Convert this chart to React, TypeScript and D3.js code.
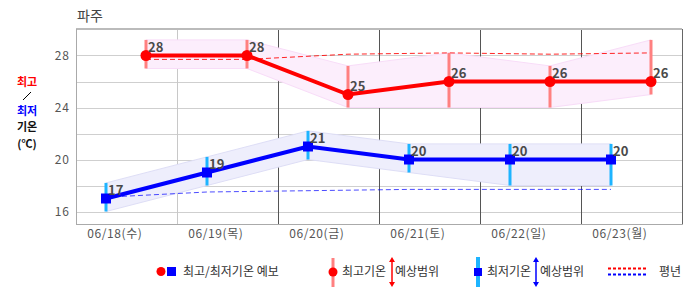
import React from "react";
import * as d3 from "d3";

const dates = ["06/18(수)", "06/19(목)", "06/20(금)", "06/21(토)", "06/22(일)", "06/23(월)"];
const maxTemp = [28, 28, 25, 26, 26, 26];
const minTemp = [17, 19, 21, 20, 20, 20];
const maxRangeLow = [27, 27, 24, 24, 24, 25];
const maxRangeHigh = [29.2, 29.2, 27.2, 28.2, 27.2, 29.2];
const minRangeLow = [16, 18, 20, 19, 18, 18];
const minRangeHigh = [18.2, 20.2, 22.2, 21.2, 21.2, 21.2];
const maxNormal = [27.7, 27.7, 28.1, 28.2, 28.1, 28.2];
const minNormal = [17.1, 17.5, 17.6, 17.7, 17.7, 17.7];
const yTicks = [16, 20, 24, 28];
const yGrid = [16, 18, 20, 22, 24, 26, 28];

const W = 686, H = 295;
const L = 76, R = 682, T = 29, B = 224.5;
const MIN_OFF = 0.297, MAX_OFF = 0.693, LABEL_OFF = 0.385;
const FONT = "'Noto Sans CJK KR', 'Noto Sans', sans-serif";

export default function App() {
  const x = d3.scaleLinear().domain([0, 6]).range([L, R]);
  const y = d3.scaleLinear().domain([15, 30]).range([B, T + 0.5]);
  const idx = d3.range(dates.length);

  const xMax = (i: number) => x(i + MAX_OFF);
  const xMin = (i: number) => x(i + MIN_OFF);

  const area = (xs: (i: number) => number, lo: number[], hi: number[]) =>
    d3.area<number>().x((i) => xs(i)).y0((i) => y(lo[i])).y1((i) => y(hi[i]))(idx) || "";
  const line = (xs: (i: number) => number, v: number[]) =>
    d3.line<number>().x((i) => xs(i)).y((i) => y(v[i]))(idx) || "";

  const arrow = (cx: number, y0: number, y1: number, color: string) => (
    <g>
      <line x1={cx} x2={cx} y1={y0 + 3} y2={y1 - 3} stroke={color} strokeWidth={1.5} />
      <path d={`M${cx - 3},${y0 + 5} L${cx},${y0} L${cx + 3},${y0 + 5} Z`} fill={color} />
      <path d={`M${cx - 3},${y1 - 5} L${cx},${y1} L${cx + 3},${y1 - 5} Z`} fill={color} />
    </g>
  );

  return (
    <svg width={W} height={H} style={{ position: "absolute", left: 0, top: 0, background: "#fff" }} fontFamily={FONT}>
      <rect width={W} height={H} fill="#fff" />
      <text x={77} y={21} fontSize={14} fill="#444">파주</text>

      {/* grid */}
      {yGrid.map((v) => (
        <line key={v} x1={L} x2={R} y1={Math.round(y(v)) + 0.5} y2={Math.round(y(v)) + 0.5} stroke="#cfcfcf" />
      ))}
      {d3.range(1, 6).map((d) => (
        <line key={d} x1={Math.round(x(d)) + 0.5} x2={Math.round(x(d)) + 0.5} y1={T} y2={B}
          stroke={d === 1 ? "#c8c8c8" : "#555"} />
      ))}
      <line x1={R + 0.5} x2={R + 0.5} y1={T} y2={B} stroke="#666" />
      <line x1={L} x2={R} y1={T} y2={T} stroke="#bbb" strokeWidth={2} />
      <line x1={L + 0.5} x2={L + 0.5} y1={T} y2={B} stroke="#aaa" />
      <line x1={L} x2={R} y1={B} y2={B} stroke="#aaa" />

      {/* y ticks */}
      {yTicks.map((v) => (
        <text key={v} x={70} y={y(v) + 4.5} fontSize={12} fill="#555" textAnchor="end" letterSpacing={1}>{v}</text>
      ))}
      {/* x labels */}
      {dates.map((d, i) => (
        <text key={d} x={x(i + LABEL_OFF)} y={238} fontSize={12} fill="#555" textAnchor="middle" letterSpacing={0.6}>{d}</text>
      ))}

      {/* y axis title */}
      <g fontSize={11} fontWeight="bold" textAnchor="middle">
        <text x={27} y={86} fill="#f00">최고</text>
        <text x={27} y={115} fill="#00f">최저</text>
        <text x={27} y={131} fill="#111">기온</text>
        <text x={27} y={147.5} fill="#111">(℃)</text>
      </g>
      <line x1={23} y1={100} x2={31} y2={92} stroke="#000" strokeWidth={1} />

      {/* bands */}
      <path d={area(xMax, maxRangeLow, maxRangeHigh)} fill="#fceefc" stroke="#f8dcf8" strokeWidth={1} />
      <path d={area(xMin, minRangeLow, minRangeHigh)} fill="#eeeefc" stroke="#dedef6" strokeWidth={1} />

      {/* normals */}
      <path d={line(xMax, maxNormal)} fill="none" stroke="#f00" strokeWidth={1} strokeDasharray="5,3" opacity={0.85} />
      <path d={line(xMin, minNormal)} fill="none" stroke="#00f" strokeWidth={1} strokeDasharray="5,3" opacity={0.7} />

      {/* range bars */}
      {idx.map((i) => (
        <line key={"mr" + i} x1={xMax(i)} x2={xMax(i)} y1={y(maxRangeHigh[i])} y2={y(maxRangeLow[i])} stroke="#ff8080" strokeWidth={3} />
      ))}
      {idx.map((i) => (
        <line key={"nr" + i} x1={xMin(i)} x2={xMin(i)} y1={y(minRangeHigh[i])} y2={y(minRangeLow[i])} stroke="#1eb4ff" strokeWidth={3} />
      ))}

      {/* lines */}
      <path d={line(xMax, maxTemp)} fill="none" stroke="#f00" strokeWidth={4} />
      <path d={line(xMin, minTemp)} fill="none" stroke="#00f" strokeWidth={4} />

      {/* markers */}
      {idx.map((i) => (
        <circle key={"mc" + i} cx={xMax(i)} cy={y(maxTemp[i])} r={5.5} fill="#f00" />
      ))}
      {idx.map((i) => (
        <rect key={"ns" + i} x={xMin(i) - 5} y={y(minTemp[i]) - 5} width={10} height={10} fill="#00f" />
      ))}

      {/* value labels */}
      {idx.map((i) => (
        <text key={"ml" + i} x={xMax(i) + 2} y={y(maxTemp[i]) - 3.5} fontSize={13} fontWeight="bold" fill="#4a4a4a">{maxTemp[i]}</text>
      ))}
      {idx.map((i) => (
        <text key={"nl" + i} x={xMin(i) + 2} y={y(minTemp[i]) - 3.5} fontSize={13} fontWeight="bold" fill="#4a4a4a">{minTemp[i]}</text>
      ))}

      {/* legend */}
      <g fontSize={12} fill="#333">
        <circle cx={161} cy={271.5} r={4.5} fill="#f00" />
        <rect x={167} y={267} width={9} height={9} fill="#00f" />
        <text x={183} y={276}>최고/최저기온 예보</text>

        <line x1={333} x2={333} y1={258} y2={287} stroke="#ff8080" strokeWidth={3} />
        <circle cx={333} cy={272} r={4.5} fill="#f00" />
        <text x={342} y={276}>최고기온</text>
        {arrow(392, 257, 287, "#f00")}
        <text x={395} y={276}>예상범위</text>

        <line x1={478} x2={478} y1={257} y2={287} stroke="#1eb4ff" strokeWidth={4} />
        <rect x={474} y={268} width={8} height={8} fill="#00f" />
        <text x={487} y={276}>최저기온</text>
        {arrow(536, 257, 287, "#00f")}
        <text x={540} y={276}>예상범위</text>

        <line x1={608} x2={647} y1={268.5} y2={268.5} stroke="#f00" strokeWidth={2} strokeDasharray="3,2" />
        <line x1={608} x2={647} y1={274.5} y2={274.5} stroke="#00f" strokeWidth={2} strokeDasharray="3,2" />
        <text x={659} y={276}>평년</text>
      </g>
    </svg>
  );
}
